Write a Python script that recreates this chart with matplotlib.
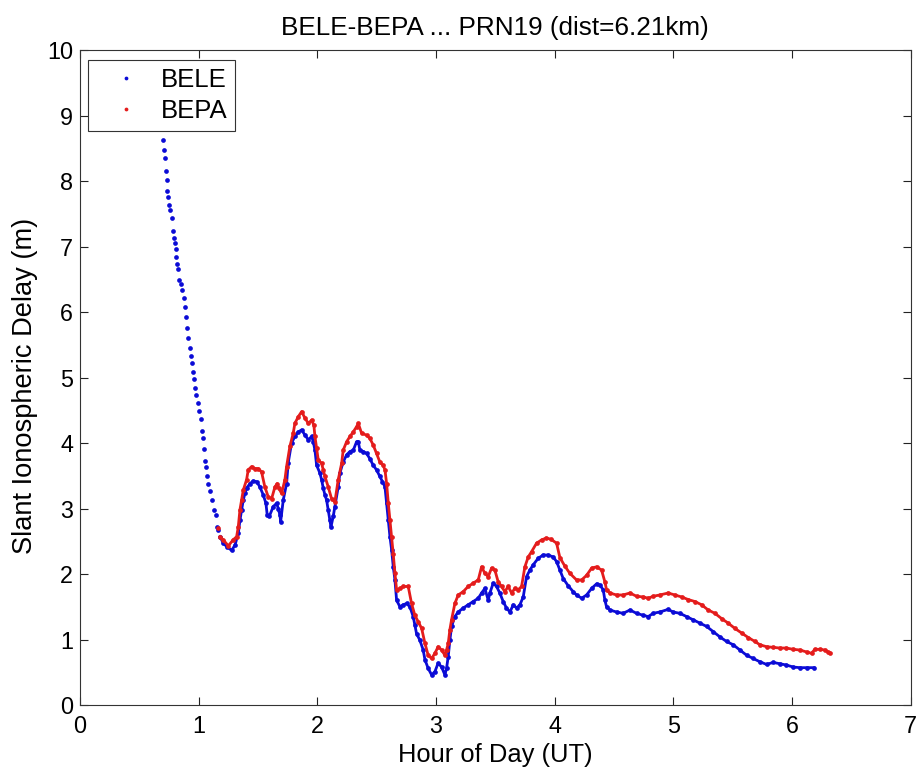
import numpy as np
import matplotlib
matplotlib.use('Agg')
import matplotlib.pyplot as plt

plt.rcParams['font.family'] = ['Liberation Sans', 'DejaVu Sans']

# values (hour UT, slant delay in m)
bele_hour = [
    0.702, 0.708, 0.716, 0.724, 0.730, 0.736, 0.741, 0.750, 0.758, 0.772,
    0.781, 0.789, 0.800, 0.806, 0.812, 0.820, 0.829, 0.837, 0.848, 0.862,
    0.873, 0.882, 0.890, 0.899, 0.910, 0.924, 0.935, 0.944, 0.952, 0.960,
    0.972, 0.980, 0.992, 1.005, 1.017, 1.025, 1.034, 1.042, 1.051, 1.059,
    1.067, 1.081, 1.095, 1.112, 1.132, 1.143, 1.157, 1.165, 1.180, 1.208,
    1.236, 1.278, 1.306, 1.334, 1.348, 1.362, 1.376, 1.390, 1.404, 1.432,
    1.460, 1.489, 1.516, 1.544, 1.567, 1.578, 1.595, 1.629, 1.657, 1.671,
    1.685, 1.691, 1.713, 1.741, 1.755, 1.783, 1.811, 1.839, 1.868, 1.896,
    1.924, 1.952, 1.966, 1.980, 1.994, 2.022, 2.036, 2.050, 2.064, 2.078,
    2.092, 2.106, 2.115, 2.134, 2.148, 2.176, 2.190, 2.218, 2.247, 2.275,
    2.303, 2.331, 2.345, 2.359, 2.387, 2.415, 2.443, 2.471, 2.499, 2.527,
    2.549, 2.570, 2.584, 2.598, 2.612, 2.626, 2.640, 2.654, 2.668,
    2.696, 2.724, 2.752, 2.780, 2.808, 2.822, 2.836, 2.864, 2.892, 2.907,
    2.934, 2.963, 2.991, 3.018, 3.047, 3.075, 3.089, 3.103, 3.117, 3.131,
    3.159, 3.187, 3.229, 3.271, 3.313, 3.356, 3.384, 3.412, 3.440, 3.454,
    3.482, 3.510, 3.538, 3.566, 3.594, 3.623, 3.651, 3.679, 3.707, 3.735,
    3.763, 3.791, 3.819, 3.861, 3.903, 3.945, 3.987, 4.016, 4.044, 4.072,
    4.114, 4.156, 4.184, 4.227, 4.269, 4.311, 4.353, 4.381, 4.409, 4.423,
    4.437, 4.465, 4.521, 4.577, 4.634, 4.690, 4.746, 4.788, 4.830, 4.886,
    4.956, 4.998, 5.055, 5.111, 5.167, 5.223, 5.280, 5.336, 5.392, 5.448,
    5.504, 5.560, 5.617, 5.673, 5.729, 5.785, 5.841, 5.897, 5.953, 6.009,
    6.066, 6.122, 6.184,
]
bele_delay = [
    8.62, 8.48, 8.35, 8.16, 8.01, 7.85, 7.76, 7.64, 7.56, 7.43,
    7.24, 7.13, 7.05, 6.96, 6.84, 6.74, 6.65, 6.49, 6.43, 6.33,
    6.21, 6.08, 5.93, 5.75, 5.61, 5.45, 5.33, 5.22, 5.09, 4.97,
    4.84, 4.73, 4.61, 4.49, 4.36, 4.18, 4.07, 3.91, 3.73, 3.64,
    3.49, 3.37, 3.27, 3.13, 2.98, 2.90, 2.72, 2.67, 2.57, 2.47,
    2.42, 2.36, 2.44, 2.62, 2.82, 2.98, 3.13, 3.23, 3.31, 3.38,
    3.42, 3.41, 3.33, 3.21, 3.08, 2.90, 2.88, 3.03, 3.08, 3.00,
    2.90, 2.80, 3.13, 3.38, 3.70, 4.00, 4.10, 4.17, 4.20, 4.12,
    4.05, 4.10, 4.02, 3.89, 3.66, 3.54, 3.44, 3.31, 3.21, 3.13,
    2.98, 2.82, 2.72, 2.88, 3.03, 3.33, 3.54, 3.71, 3.82, 3.87,
    3.89, 4.02, 4.02, 3.89, 3.87, 3.84, 3.76, 3.66, 3.59, 3.49,
    3.41, 3.33, 3.08, 2.82, 2.57, 2.37, 2.11, 1.91, 1.60,
    1.50, 1.53, 1.55, 1.50, 1.35, 1.22, 1.09, 0.99, 0.84, 0.69,
    0.56, 0.46, 0.51, 0.64, 0.58, 0.46, 0.56, 0.74, 0.99, 1.20,
    1.35, 1.42, 1.48, 1.53, 1.58, 1.63, 1.71, 1.78, 1.60, 1.71,
    1.86, 1.81, 1.71, 1.58, 1.48, 1.42, 1.53, 1.48, 1.53, 1.65,
    1.96, 2.06, 2.14, 2.24, 2.29, 2.29, 2.26, 2.19, 2.06, 1.93,
    1.82, 1.73, 1.68, 1.63, 1.68, 1.78, 1.85, 1.83, 1.76, 1.60,
    1.50, 1.45, 1.42, 1.40, 1.45, 1.40, 1.37, 1.35, 1.40, 1.42,
    1.46, 1.42, 1.40, 1.35, 1.30, 1.25, 1.20, 1.12, 1.04, 0.97,
    0.92, 0.84, 0.76, 0.71, 0.66, 0.62, 0.65, 0.63, 0.61, 0.58,
    0.57, 0.57, 0.57,
]

bepa_hour = [
    1.160, 1.180, 1.208, 1.250, 1.290, 1.320, 1.334, 1.348, 1.362, 1.376,
    1.404, 1.418, 1.446, 1.474, 1.502, 1.530, 1.558, 1.586, 1.615, 1.643,
    1.662, 1.676, 1.699, 1.727, 1.741, 1.769, 1.797, 1.811, 1.839, 1.868,
    1.896, 1.924, 1.952, 1.971, 1.980, 1.994, 2.008, 2.036, 2.050, 2.064,
    2.092, 2.120, 2.148, 2.176, 2.205, 2.218, 2.247, 2.275, 2.303, 2.331,
    2.345, 2.373, 2.415, 2.443, 2.471, 2.499, 2.527, 2.555, 2.570, 2.584,
    2.598, 2.612, 2.626, 2.640, 2.654, 2.668, 2.696, 2.724, 2.766, 2.794,
    2.822, 2.850, 2.879, 2.907, 2.934, 2.963, 2.991, 3.018, 3.047, 3.075,
    3.089, 3.103, 3.117, 3.131, 3.159, 3.187, 3.229, 3.271, 3.313, 3.356,
    3.384, 3.412, 3.440, 3.468, 3.496, 3.524, 3.552, 3.580, 3.608, 3.637,
    3.665, 3.693, 3.721, 3.749, 3.777, 3.805, 3.847, 3.889, 3.930, 3.970,
    4.016, 4.044, 4.086, 4.128, 4.184, 4.227, 4.269, 4.311, 4.353, 4.395,
    4.423, 4.437, 4.465, 4.521, 4.577, 4.634, 4.690, 4.746, 4.788, 4.830,
    4.886, 4.956, 5.013, 5.069, 5.125, 5.181, 5.238, 5.294, 5.350, 5.406,
    5.462, 5.518, 5.575, 5.631, 5.687, 5.729, 5.785, 5.841, 5.897, 5.953,
    6.009, 6.066, 6.122, 6.164, 6.192, 6.234, 6.276, 6.304, 6.324,
]
bepa_delay = [
    2.70, 2.57, 2.52, 2.43, 2.52, 2.57, 2.72, 2.98, 3.13, 3.28,
    3.44, 3.59, 3.64, 3.61, 3.61, 3.56, 3.33, 3.18, 3.15, 3.33,
    3.38, 3.31, 3.23, 3.44, 3.64, 3.95, 4.15, 4.30, 4.40, 4.48,
    4.38, 4.30, 4.35, 4.27, 4.10, 3.92, 3.74, 3.69, 3.59, 3.49,
    3.33, 3.15, 3.10, 3.44, 3.69, 3.89, 4.02, 4.10, 4.17, 4.25,
    4.30, 4.15, 4.12, 4.07, 3.97, 3.84, 3.71, 3.66, 3.59, 3.38,
    3.08, 2.82, 2.57, 2.30, 2.01, 1.76, 1.78, 1.81, 1.81, 1.55,
    1.37, 1.27, 1.17, 0.94, 0.76, 0.71, 0.79, 0.89, 0.84, 0.76,
    0.84, 0.94, 1.15, 1.30, 1.55, 1.68, 1.73, 1.81, 1.86, 1.91,
    2.11, 2.01, 1.96, 2.09, 2.06, 1.88, 1.81, 1.73, 1.81, 1.71,
    1.78, 1.76, 1.81, 2.11, 2.26, 2.34, 2.47, 2.52, 2.55, 2.53,
    2.47, 2.25, 2.12, 2.01, 1.91, 1.91, 1.98, 2.09, 2.11, 2.06,
    1.88, 1.76, 1.71, 1.68, 1.68, 1.71, 1.66, 1.65, 1.63, 1.66,
    1.68, 1.71, 1.68, 1.65, 1.61, 1.58, 1.53, 1.45, 1.40, 1.32,
    1.25, 1.17, 1.10, 1.03, 0.97, 0.92, 0.89, 0.88, 0.87, 0.87,
    0.85, 0.84, 0.81, 0.79, 0.85, 0.85, 0.84, 0.81, 0.79,
]

series = [
    ('BELE', bele_hour, bele_delay, '#0b0bd6'),
    ('BEPA', bepa_hour, bepa_delay, '#e41c1c'),
]

fig = plt.figure(figsize=(9.19, 7.71), dpi=100)
ax = fig.add_axes([0.087, 0.0856, 0.904, 0.8495])

for name, hour, delay, col in series:
    hour = np.array(hour)
    delay = np.array(delay)
    # after the steep fall the samples sit so close they read as a band
    dense = hour >= 1.17
    ax.plot(hour[dense], delay[dense], '-', color=col, lw=2.0)
    ax.plot(hour, delay, 'o', color=col, ms=3.4, mew=0, label=name)

ax.set_xlim(0, 7)
ax.set_ylim(0, 10)
ax.set_xticks(range(0, 8))
ax.set_yticks(range(0, 11))
ax.tick_params(direction='in', length=6, width=0.8, top=True, right=True,
               labelsize=16.8, pad=5, colors='#222222', labelcolor='black')
ax.tick_params(axis='x', pad=7)
for sp in ax.spines.values():
    sp.set_color('#333333')
    sp.set_linewidth(0.8)

ax.set_xlabel('Hour of Day (UT)', fontsize=18.4, labelpad=4)
ax.set_ylabel('Slant Ionospheric Delay (m)', fontsize=19.6)
ax.yaxis.set_label_coords(-0.051, 0.487)
ax.set_title('BELE-BEPA ... PRN19 (dist=6.21km)', fontsize=18.8, pad=11)

leg = ax.legend(loc='upper left', bbox_to_anchor=(0.0093, 0.985), borderaxespad=0,
                fontsize=18.5, fancybox=False, edgecolor='#333333', framealpha=1,
                handlelength=2.4, handletextpad=0.15, labelspacing=0.3,
                borderpad=0.3, markerscale=0.8)
leg.get_frame().set_linewidth(0.8)

fig.savefig('out.png', dpi=100)
